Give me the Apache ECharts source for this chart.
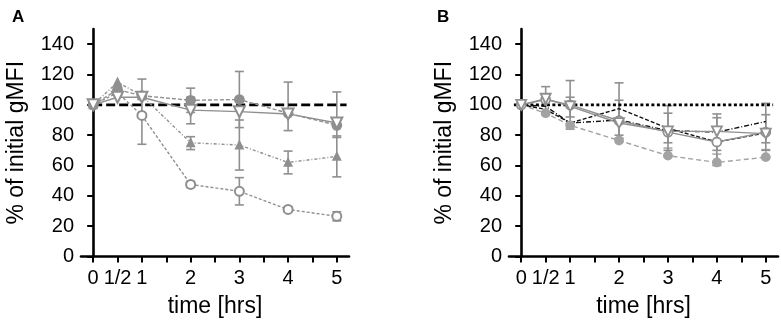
<!DOCTYPE html>
<html><head><meta charset="utf-8">
<script src="https://cdn.jsdelivr.net/npm/echarts@6/dist/echarts.min.js"></script>
<style>html,body{margin:0;padding:0;background:#fff}#c{width:781px;height:325px}</style>
</head><body><div id="c"></div>
<script>
// ---- data ----
const times = [0, 0.5, 1, 2, 3, 4, 5];
const xTicks = [0, 0.5, 1, 1.5, 2, 2.5, 3, 3.5, 4, 4.5, 5];
const xLabels = [0, 0.5, 1, 2, 3, 4, 5];
const yTicks = [0, 20, 40, 60, 80, 100, 120, 140];
const refA = [[0, 100], [5.2, 100]];
const refB = [[-0.15, 100], [5.15, 100]];

// Panel A
const aFilled = [100, 110, 106, 103, 103.5, 94.5, 86.5];
const aInvTri = [100, 105, 105, 96.5, 95.5, 94, 88];
const aTri = [100, 115, 106, 75, 73.5, 62, 66];
const aOpen = [100, 108, 93, 47.5, 43, 31, 26.5];
// error bars: [time, low, high]
const aFilledErr = [[2, 95, 111], [3, 85, 122]];
const aInvTriErr = [[2, 87.5, 105], [4, 83, 115], [5, 78.5, 108.5]];
const aTriErr = [[2, 70.5, 79], [3, 57, 90], [4, 54.5, 69.5], [5, 52.5, 79.5]];
const aOpenErr = [[1, 74, 117], [2, 45.5, 49.5], [3, 34, 52], [4, 29.5, 32.5], [5, 23.5, 29.5]];

// Panel B
const bFilled = [100, 94.5, 86.5, 76.5, 66.5, 62, 65.5];
const bOpen = [100, 103.5, 100, 89.5, 82, 75.5, 82];
const bInvTri = [100, 104, 99, 88, 82.5, 82.5, 81];
const bDash = [100, 97, 88, 97.5, 84.5, 75.5, 81.5];
const bDashDot = [100, 99, 88, 90, 83, 82, 89];
const bFilledErr = [[3, 66.5, 71.5], [4, 62, 67.5], [5, 65.5, 70.5]];
const bOpenErr = [[0.5, 95, 112], [1, 84, 116], [2, 80, 114.5], [4, 70, 94]];
const bInvTriErr = [[1, 92, 105], [2, 78, 103], [3, 70, 99.5], [5, 70, 101]];
const bDashErr = [[3, 75, 94.5], [4, 60, 91.5], [5, 75, 93.5]];

// ---- chart ----
const FONT = 'Liberation Sans, Arial, sans-serif';
const GREY = '#8f8f8f';
const chart = echarts.init(document.getElementById('c'), null, {renderer: 'canvas'});

function zip(ys) { return times.map((t, i) => [t, ys[i]]); }

function errSeries(data, axisIdx, color) {
  return {
    type: 'custom', xAxisIndex: axisIdx, yAxisIndex: axisIdx, z: 1, silent: true,
    data: data,
    renderItem: function (params, api) {
      const x = api.value(0), lo = api.value(1), hi = api.value(2);
      const p1 = api.coord([x, lo]), p2 = api.coord([x, hi]);
      const w = 4.5;
      const st = {stroke: color, lineWidth: 1.6};
      return {type: 'group', children: [
        {type: 'line', shape: {x1: p1[0], y1: p1[1], x2: p2[0], y2: p2[1]}, style: st},
        {type: 'line', shape: {x1: p1[0] - w, y1: p1[1], x2: p1[0] + w, y2: p1[1]}, style: st},
        {type: 'line', shape: {x1: p2[0] - w, y1: p2[1], x2: p2[0] + w, y2: p2[1]}, style: st}
      ]};
    }
  };
}

function lineSeries(ys, axisIdx, opt) {
  return {
    type: 'line', xAxisIndex: axisIdx, yAxisIndex: axisIdx, z: 3,
    data: zip(ys), symbol: opt.symbol, symbolSize: opt.size || 8,
    symbolRotate: opt.rot || 0,
    lineStyle: {color: opt.color, width: opt.width || 1.4, type: opt.dash || 'solid'},
    itemStyle: {color: opt.fill || opt.color, borderColor: opt.color, borderWidth: opt.bw || 1.8},
    animation: false
  };
}

function refSeries(data, axisIdx, dash) {
  return {type: 'line', xAxisIndex: axisIdx, yAxisIndex: axisIdx, z: 2, data: data,
    showSymbol: false, symbol: 'none', lineStyle: {color: '#000', width: 2.6, type: dash}, animation: false};
}

function xAxis(gi) {
  return {
    type: 'value', gridIndex: gi, min: -0.25, max: 5.25,
    name: 'time [hrs]', nameLocation: 'middle', nameGap: 39,
    nameTextStyle: {fontFamily: FONT, fontSize: 23, color: '#000'},
    axisLine: {show: true, lineStyle: {color: '#000', width: 2.6}},
    axisTick: {show: true, length: 6, lineStyle: {color: '#000', width: 2}, customValues: xTicks},
    axisLabel: {fontFamily: FONT, fontSize: 20, color: '#000', margin: 12, customValues: xLabels,
      formatter: v => (v === 0.5 ? '1/2' : String(v))},
    splitLine: {show: false}
  };
}
function yAxis(gi) {
  return {
    type: 'value', gridIndex: gi, min: 0, max: 150,
    name: '% of initial gMFI', nameLocation: 'middle', nameGap: 53, nameRotate: 90,
    nameTextStyle: {fontFamily: FONT, fontSize: 23, color: '#000'},
    axisLine: {show: true, lineStyle: {color: '#000', width: 2.6}},
    axisTick: {show: true, length: 6, lineStyle: {color: '#000', width: 2}, customValues: yTicks},
    axisLabel: {fontFamily: FONT, fontSize: 20, color: '#000', margin: 7, customValues: yTicks},
    splitLine: {show: false}
  };
}

const option = {
  backgroundColor: '#fff',
  animation: false,
  title: [
    {text: 'A', left: 7, top: 4, textStyle: {fontFamily: FONT, fontSize: 17, fontWeight: 'bold', color: '#000'}},
    {text: 'B', left: 432, top: 4, textStyle: {fontFamily: FONT, fontSize: 17, fontWeight: 'bold', color: '#000'}}
  ],
  grid: [
    {left: 81, top: 29, width: 268, height: 227.5, outerBoundsMode: 'none', containLabel: false},
    {left: 509, top: 29, width: 269, height: 227.5, outerBoundsMode: 'none', containLabel: false}
  ],
  xAxis: [xAxis(0), xAxis(1)],
  yAxis: [yAxis(0), yAxis(1)],
  series: [
    refSeries(refA, 0, [9, 4]),
    errSeries(aFilledErr, 0, GREY),
    errSeries(aInvTriErr, 0, GREY),
    errSeries(aTriErr, 0, GREY),
    errSeries(aOpenErr, 0, GREY),
    lineSeries(aOpen, 0, {symbol: 'circle', color: GREY, fill: '#fff', dash: [3, 2], size: 9, bw: 2}),
    lineSeries(aTri, 0, {symbol: 'triangle', color: GREY, dash: [3, 2, 1, 2], size: 7}),
    lineSeries(aFilled, 0, {symbol: 'circle', color: GREY, dash: [4, 2], size: 9}),
    lineSeries(aInvTri, 0, {symbol: 'triangle', rot: 180, color: GREY, fill: '#fff', size: 11, bw: 2}),

    refSeries(refB, 1, [3, 2.5]),
    errSeries(bFilledErr, 1, '#aaaaaa'),
    errSeries(bOpenErr, 1, GREY),
    errSeries(bInvTriErr, 1, GREY),
    errSeries(bDashErr, 1, GREY),
    lineSeries(bFilled, 1, {symbol: 'circle', color: '#a3a3a3', dash: [5, 3], size: 8}),
    lineSeries(bDash, 1, {symbol: 'none', color: '#111', dash: [4, 2], width: 1.4}),
    lineSeries(bDashDot, 1, {symbol: 'none', color: '#111', dash: [5, 2, 1, 2], width: 1.4}),
    lineSeries(bOpen, 1, {symbol: 'circle', color: GREY, fill: '#fff', size: 9, bw: 1.8}),
    lineSeries(bInvTri, 1, {symbol: 'triangle', rot: 180, color: GREY, fill: '#fff', size: 10, bw: 1.8})
  ]
};
chart.setOption(option);
</script>
</body></html>
